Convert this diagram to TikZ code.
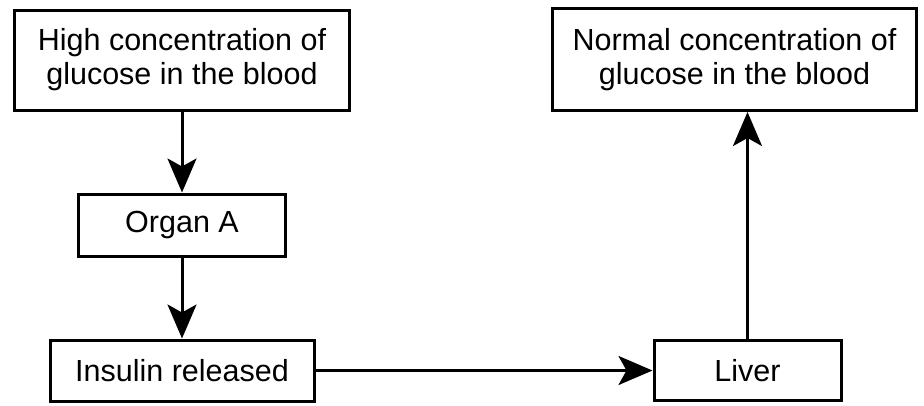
\documentclass[tikz,border=0pt]{standalone}
\usepackage{fontspec}
\setmainfont{Liberation Sans}
\usetikzlibrary{arrows.meta,positioning}
\tikzset{
    %Define standard arrow tip
    >={Stealth[length=34pt,width=29pt,inset=8pt]},
    %Define style for a box in the chain
    stage/.style={rectangle, draw=black, line width=3pt, fill=white, align=center,
        font=\fontsize{30.5}{34}\selectfont},
    flow/.style={->, line width=3pt},
}

\begin{document}
\begin{tikzpicture}[x=1pt, y=1pt, node distance=81pt]
    \useasboundingbox (0,0) rectangle (924,-405);
	\node[stage, minimum width=335pt, minimum height=100pt] (high) at (182,-60)
	    {High concentration of\\glucose in the blood};
	\node[stage, minimum width=207pt, minimum height=62pt, below=of high] (organ) {Organ A};
	\node[stage, minimum width=264pt, minimum height=61pt, below=of organ] (insulin) {Insulin released};
	\node[stage, minimum width=187pt, minimum height=60pt, right=337pt of insulin] (liver) {Liver};
	\node[stage, minimum width=364pt, minimum height=102pt, above=227pt of liver, xshift=-13pt] (normal)
	    {Normal concentration of\\glucose in the blood};

    \draw[flow] (high) -- (organ);
    \draw[flow] (organ) -- (insulin);
    \draw[flow] (insulin) -- (liver);
    \draw[flow] (liver.north) -- (liver.north |- normal.south);
\end{tikzpicture}
\end{document}
